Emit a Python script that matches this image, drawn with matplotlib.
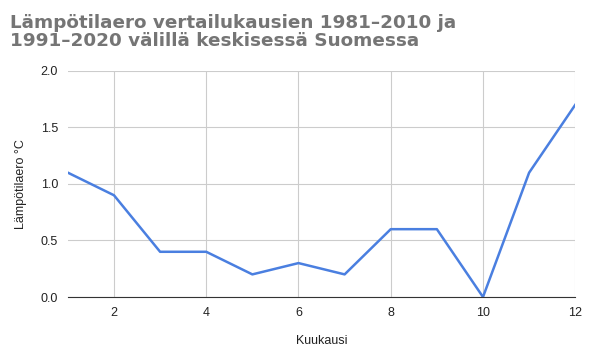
import matplotlib
matplotlib.use('Agg')
from matplotlib import pyplot as plt

months = [1, 2, 3, 4, 5, 6, 7, 8, 9, 10, 11, 12]
diff = [1.1, 0.9, 0.4, 0.4, 0.2, 0.3, 0.2, 0.6, 0.6, 0.0, 1.1, 1.7]
xticks = [2, 4, 6, 8, 10, 12]
yticks = [0.0, 0.5, 1.0, 1.5, 2.0]

plt.rcParams['font.family'] = ['Liberation Sans', 'DejaVu Sans']

fig = plt.figure(figsize=(5.9, 3.6), dpi=100)
ax = fig.add_axes([0.115, 0.175, 0.86, 0.628])

ax.plot(months, diff, color='#4a7fe0', linewidth=1.8)

ax.set_xlim(1, 12)
ax.set_ylim(0, 2.0)
ax.set_xticks(xticks)
ax.set_yticks(yticks)
ax.set_yticklabels(['%.1f' % v for v in yticks])
ax.grid(True, color='#cccccc', linewidth=0.8)
ax.set_axisbelow(True)
for s in ['top', 'right', 'left']:
    ax.spines[s].set_visible(False)
ax.spines['bottom'].set_color('#333333')
ax.tick_params(length=0, labelsize=9, colors='#222222', pad=7)

ax.set_xlabel('Kuukausi', fontsize=9, color='#222222', labelpad=12)
ax.set_ylabel('Lämpötilaero °C', fontsize=9, color='#222222', labelpad=10)

fig.text(0.017, 0.86, 'Lämpötilaero vertailukausien 1981–2010 ja\n1991–2020 välillä keskisessä Suomessa',
         fontsize=13.2, fontweight='heavy', family=['DejaVu Sans'], color='#757575',
         linespacing=1.05, va='bottom')

plt.savefig('out.png', dpi=100)
